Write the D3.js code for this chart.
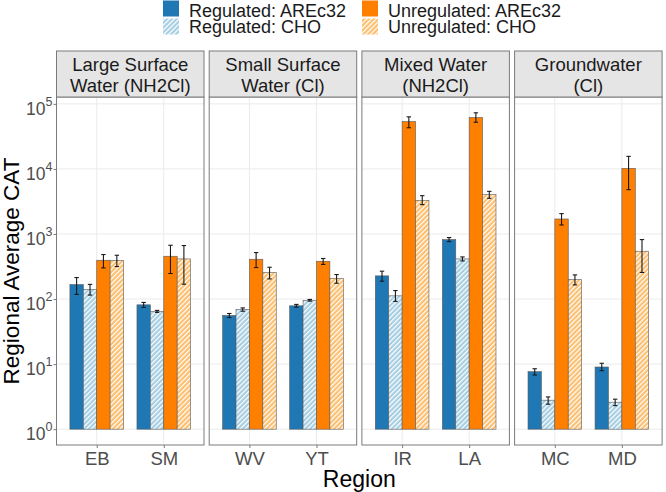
<!DOCTYPE html>
<html>
<head>
<meta charset="utf-8">
<script src="https://cdn.jsdelivr.net/npm/d3@7"></script>
<style>
  body { margin: 0; background: #fff; }
  svg text { font-family: "Liberation Sans", Arial, sans-serif; }
</style>
</head>
<body>
<svg id="chart" width="666" height="492"></svg>
<script>
// ---- data ----
const facets = [["Large Surface", "Water (NH2Cl)"], ["Small Surface", "Water (Cl)"], ["Mixed Water", "(NH2Cl)"], ["Groundwater", "(Cl)"]];
const regions = ["EB", "SM", "WV", "YT", "IR", "LA", "MC", "MD"];
const regionFacet = [0, 0, 1, 1, 2, 2, 3, 3];
const seriesNames = ["Regulated: AREc32", "Regulated: CHO", "Unregulated: AREc32", "Unregulated: CHO"];
const regArec    = [167, 81.5, 56, 78.7, 227, 820, 7.65, 9.03];
const regArecLo  = [118, 74.3, 52, 75.2, 188, 764, 6.8, 7.93];
const regArecHi  = [214, 88.7, 60, 82.7, 268, 881, 8.49, 10.3];
const regCho     = [140, 64.5, 69.3, 95, 112, 414, 2.79, 2.6];
const regChoLo   = [115, 62.3, 65, 92.9, 92, 385, 2.42, 2.3];
const regChoHi   = [168, 66.9, 73, 98.6, 135, 444, 3.13, 2.89];
const unregArec   = [395, 455, 409, 381, 53500, 61700, 1700, 10200];
const unregArecLo = [301, 247, 305, 340, 42900, 52200, 1375, 4800];
const unregArecHi = [483, 671, 518, 420, 63100, 72800, 2055, 15600];
const unregCho    = [391, 414, 256, 207, 3290, 4020, 200, 543];
const unregChoLo  = [316, 169, 204, 175, 2825, 3530, 165, 256];
const unregChoHi  = [471, 664, 308, 238, 3880, 4520, 235, 820];
const yTickExps = [0, 1, 2, 3, 4, 5];

const seriesVals = [regArec, regCho, unregArec, unregCho];
const seriesLo = [regArecLo, regChoLo, unregArecLo, unregChoLo];
const seriesHi = [regArecHi, regChoHi, unregArecHi, unregChoHi];

// ---- style ----
const colors = ["#1f77b4", "#a6cee3", "#ff7f00", "#fdbf6f"];
const hatched = [false, true, false, true];

const svg = d3.select("#chart");
const defs = svg.append("defs");
[1, 3].forEach(i => {
  const p = defs.append("pattern").attr("id", "hatch" + i)
    .attr("patternUnits", "userSpaceOnUse").attr("width", 3.4).attr("height", 3.4)
    .attr("patternTransform", "rotate(45)");
  p.append("rect").attr("width", 3.4).attr("height", 3.4).attr("fill", colors[i]);
  p.append("rect").attr("x", 0).attr("width", 1.2).attr("height", 3.4).attr("fill", "#ffffff");
});
const fillOf = i => hatched[i] ? `url(#hatch${i})` : colors[i];

// ---- layout ----
const panelTop = 97, panelBottom = 445, stripTop = 51;
const panelX0 = 56.5, panelW = 147.5, panelGap = 5.2;

const maxLog = Math.log10(d3.max(seriesHi.flat()));
const minLog = 0;
const expand = (maxLog - minLog) * 0.05;
const y = d3.scaleLog().domain([Math.pow(10, minLog - expand), Math.pow(10, maxLog + expand)]).range([panelBottom, panelTop]);

const inner = d3.scaleBand().domain(d3.range(4)).range([-0.4, 0.4]);

facets.forEach((f, fi) => {
  const px0 = panelX0 + fi * (panelW + panelGap);
  const px1 = px0 + panelW;
  const facetRegions = regions.filter((r, i) => regionFacet[i] === fi);
  const x = d3.scalePoint().domain(facetRegions).range([px0, px1]).padding(0.6);
  const unit = x.step();
  const g = svg.append("g");

  // panel background + grid
  g.append("rect").attr("x", px0).attr("y", panelTop).attr("width", panelW).attr("height", panelBottom - panelTop).attr("fill", "#fff");
  yTickExps.forEach(e => {
    g.append("line").attr("x1", px0).attr("x2", px1).attr("y1", y(Math.pow(10, e))).attr("y2", y(Math.pow(10, e)))
      .attr("stroke", "#ebebeb").attr("stroke-width", 1);
  });
  facetRegions.forEach(r => {
    g.append("line").attr("x1", x(r)).attr("x2", x(r)).attr("y1", panelTop).attr("y2", panelBottom)
      .attr("stroke", "#ebebeb").attr("stroke-width", 1);
  });

  // bars
  facetRegions.forEach(r => {
    const ri = regions.indexOf(r);
    seriesVals.forEach((vals, si) => {
      const bx = x(r) + inner(si) * unit;
      const bw = inner.bandwidth() * unit;
      g.append("rect").attr("x", bx).attr("width", bw)
        .attr("y", y(vals[ri])).attr("height", y(1) - y(vals[ri]))
        .attr("fill", fillOf(si)).attr("stroke", "#5a5a5a").attr("stroke-width", 0.6);
    });
    seriesVals.forEach((vals, si) => {
      const cx = x(r) + (inner(si) + inner.bandwidth() / 2) * unit;
      const lo = y(seriesLo[si][ri]), hi = y(seriesHi[si][ri]);
      const eg = g.append("g").attr("stroke", "#1a1a1a").attr("stroke-width", 1.1);
      eg.append("line").attr("x1", cx).attr("x2", cx).attr("y1", lo).attr("y2", hi);
      eg.append("line").attr("x1", cx - 2.2).attr("x2", cx + 2.2).attr("y1", lo).attr("y2", lo);
      eg.append("line").attr("x1", cx - 2.2).attr("x2", cx + 2.2).attr("y1", hi).attr("y2", hi);
    });
  });

  // panel border
  g.append("rect").attr("x", px0).attr("y", panelTop).attr("width", panelW).attr("height", panelBottom - panelTop)
    .attr("fill", "none").attr("stroke", "#7a7a7a").attr("stroke-width", 1);

  // strip
  g.append("rect").attr("x", px0).attr("y", stripTop).attr("width", panelW).attr("height", panelTop - stripTop)
    .attr("fill", "#e5e5e5").attr("stroke", "#7a7a7a").attr("stroke-width", 1);
  f.forEach((line, li) => {
    g.append("text").attr("x", (px0 + px1) / 2).attr("y", stripTop + 20 + li * 20.5)
      .attr("text-anchor", "middle").attr("font-size", 18.5).attr("fill", "#1a1a1a").text(line);
  });

  // x axis
  const xAxis = d3.axisBottom(x).tickSize(3).tickPadding(4);
  const xa = g.append("g").attr("transform", `translate(0,${panelBottom})`).call(xAxis);
  xa.select(".domain").remove();
  xa.selectAll(".tick line").attr("stroke", "#7a7a7a");
  xa.selectAll(".tick text").attr("font-size", 18.5).attr("fill", "#4d4d4d")
    .attr("font-family", '"Liberation Sans", Arial, sans-serif').attr("dy", "0.71em");

  // y axis on the first panel
  if (fi === 0) {
    const yAxis = d3.axisLeft(y).tickValues(yTickExps.map(e => Math.pow(10, e))).tickSize(3).tickFormat("");
    const ya = g.append("g").attr("transform", `translate(${px0},0)`).call(yAxis);
    ya.select(".domain").remove();
    ya.selectAll(".tick line").attr("stroke", "#7a7a7a");
    yTickExps.forEach(e => {
      const t = g.append("text").attr("x", px0 - 4).attr("y", y(Math.pow(10, e)) + 11)
        .attr("text-anchor", "end").attr("fill", "#4d4d4d").attr("font-size", 17.5);
      t.append("tspan").text("10");
      t.append("tspan").attr("font-size", 12.5).attr("dy", -9).text(String(e));
    });
  }
});

// axis titles
svg.append("text").attr("x", panelX0 + (4 * panelW + 3 * panelGap) / 2).attr("y", 487)
  .attr("text-anchor", "middle").attr("font-size", 23).attr("fill", "#000").text("Region");
svg.append("text").attr("transform", `translate(18.5,${(panelTop + panelBottom) / 2}) rotate(-90)`)
  .attr("text-anchor", "middle").attr("font-size", 22.5).attr("fill", "#000").text("Regional Average CAT");

// legend
const legendPos = [[163, 0.5], [163, 18.5], [362, 0.5], [362, 18.5]];
seriesNames.forEach((name, si) => {
  const [lx, ly] = legendPos[si];
  svg.append("rect").attr("x", lx).attr("y", ly).attr("width", 16).attr("height", 16)
    .attr("fill", fillOf(si));
  svg.append("text").attr("x", lx + 26).attr("y", si % 2 === 0 ? 16.5 : 33).attr("font-size", 18).attr("fill", "#1a1a1a").text(name);
});
</script>
</body>
</html>
